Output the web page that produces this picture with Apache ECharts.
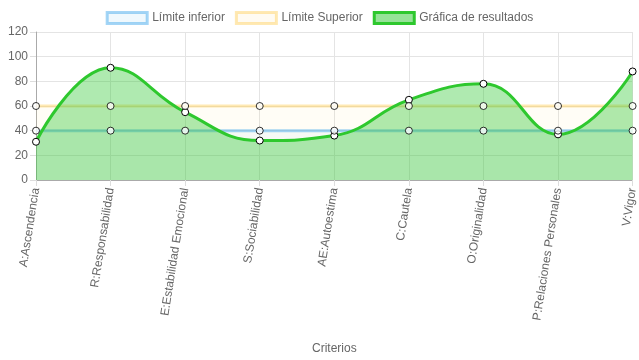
<!DOCTYPE html>
<html><head><meta charset="utf-8">
<script src="https://cdn.jsdelivr.net/npm/echarts@6/dist/echarts.min.js"></script>
<style>html,body{margin:0;padding:0;background:#fff}#c{width:639px;height:360px}</style>
</head><body><div id="c"></div>
<script>
const categories = ['A:Ascendencia','R:Responsabilidad','E:Estabilidad Emocional','S:Sociabilidad','AE:Autoestima','C:Cautela','O:Originalidad','P:Relaciones Personales','V:Vigor'];
const limiteInferior = [40,40,40,40,40,40,40,40,40];
const limiteSuperior = [60,60,60,60,60,60,60,60,60];
const resultados = [31,91,55,32,36,65,78,37,88];
const yTicks = {min:0, max:120, interval:20};
const F = 'Helvetica, Arial, "Liberation Sans", sans-serif';
const chart = echarts.init(document.getElementById('c'));
const pt = {color:'#fff', borderColor:'#000', borderWidth:1};
chart.setOption({
  animation:false,
  textStyle:{fontFamily:F},
  legend:{top:6, left:'center', icon:'rect', itemWidth:40, itemHeight:11, itemGap:10,
    textStyle:{color:'#666', fontSize:12, fontFamily:F},
    data:[
      {name:'Límite inferior', itemStyle:{color:'rgba(54,162,235,0.08)', borderColor:'rgba(54,162,235,0.45)', borderWidth:3}},
      {name:'Límite Superior', itemStyle:{color:'rgba(255,206,86,0.08)', borderColor:'rgba(255,206,86,0.45)', borderWidth:3}},
      {name:'Gráfica de resultados', itemStyle:{color:'rgba(46,200,50,0.5)', borderColor:'rgb(46,200,46)', borderWidth:3}}
    ]},
  grid:{left:36, right:3, top:32, bottom:180, containLabel:false},
  xAxis:{type:'category', data:categories, boundaryGap:false,
    name:'Criterios', nameLocation:'middle', nameGap:163,
    nameTextStyle:{color:'#666', fontSize:12, fontFamily:F},
    axisLine:{lineStyle:{color:'#aaa'}}, axisTick:{show:true, length:6, lineStyle:{color:'#ddd'}},
    splitLine:{show:true, lineStyle:{color:'#e4e4e4'}},
    axisLabel:{rotate:81, color:'#666', fontSize:12, fontFamily:F, margin:8, interval:0}},
  yAxis:{type:'value', min:yTicks.min, max:yTicks.max, interval:yTicks.interval,
    axisLine:{show:true, lineStyle:{color:'#aaa'}}, axisTick:{show:true, length:6, lineStyle:{color:'#ddd'}},
    splitLine:{lineStyle:{color:'#e4e4e4'}},
    axisLabel:{color:'#666', fontSize:12, fontFamily:F, margin:8}},
  series:[
    {name:'Límite inferior', type:'line', data:limiteInferior, z:1, showSymbol:false,
      lineStyle:{color:'rgba(54,162,235,0.45)', width:3},
      areaStyle:{color:'rgba(54,162,235,0.06)', origin:'start'}},
    {name:'Límite Superior', type:'line', data:limiteSuperior, z:1, showSymbol:false,
      lineStyle:{color:'rgba(255,206,86,0.45)', width:3},
      areaStyle:{color:'rgba(255,206,86,0.07)', origin:'start'}},
    {name:'Gráfica de resultados', type:'line', data:resultados, smooth:0.45, z:2,
      symbol:'circle', symbolSize:7, itemStyle:pt,
      lineStyle:{color:'rgb(46,200,46)', width:3},
      areaStyle:{color:'rgba(46,200,50,0.55)', origin:'start'}},
    {type:'scatter', data:limiteInferior, z:3, symbol:'circle', symbolSize:7, itemStyle:pt, silent:true},
    {type:'scatter', data:limiteSuperior, z:3, symbol:'circle', symbolSize:7, itemStyle:pt, silent:true}
  ]
});
</script></body></html>
